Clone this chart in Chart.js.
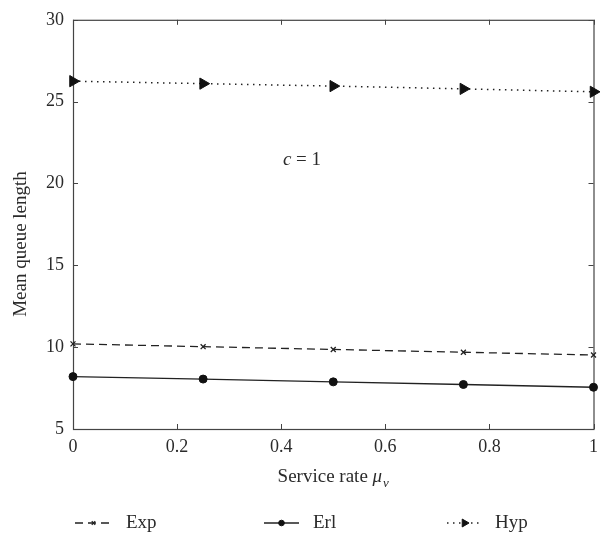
<!DOCTYPE html>
<html><head><meta charset="utf-8">
<script src="https://cdn.jsdelivr.net/npm/chart.js@4.4.0/dist/chart.umd.min.js"></script>
<style>html,body{margin:0;padding:0;background:#fff}#wrap{width:605px;height:540px}</style>
</head><body><div id="wrap"><canvas id="c" width="605" height="540"></canvas></div>
<script>
const serviceRates = [0, 0.25, 0.5, 0.75, 1];
const expValues = [10.2, 10.03, 9.86, 9.69, 9.52];
const erlValues = [8.2, 8.05, 7.88, 7.72, 7.55];
const hypValues = [26.25, 26.1, 25.95, 25.78, 25.6];
const xTicks = [0, 0.2, 0.4, 0.6, 0.8, 1];
const yTicks = [5, 10, 15, 20, 25, 30];
const seriesNames = ['Exp', 'Erl', 'Hyp'];
const yTitle = 'Mean queue length';
const xTitle = 'Service rate ';
const annotation = 'c = 1';

const FONT = "'Liberation Serif', 'Times New Roman', serif";
const INK = '#222';
const TXT = '#2b2b2b';

function pts(vals){ return serviceRates.map((x,i)=>({x:x, y:vals[i]})); }

const legendPos = [
  {x1:75, x2:112, tx:126},
  {x1:264, x2:299, tx:313},
  {x1:447, x2:482, tx:495}
];

const decor = {
  id:'decor',
  beforeDatasetsDraw(chart){
    const {ctx, chartArea:a, scales:{x,y}} = chart;
    ctx.save();
    ctx.strokeStyle = '#444';
    ctx.lineWidth = 1.2;
    ctx.strokeRect(a.left+0.5, a.top+0.5, a.right-a.left, a.bottom-a.top);
    ctx.lineWidth = 1;
    const L = 5;
    ctx.beginPath();
    xTicks.forEach(v=>{
      const px = Math.round(x.getPixelForValue(v))+0.5;
      ctx.moveTo(px, a.bottom); ctx.lineTo(px, a.bottom-L);
      ctx.moveTo(px, a.top); ctx.lineTo(px, a.top+L);
    });
    yTicks.forEach(v=>{
      const py = Math.round(y.getPixelForValue(v))+0.5;
      ctx.moveTo(a.left, py); ctx.lineTo(a.left+L, py);
      ctx.moveTo(a.right, py); ctx.lineTo(a.right-L, py);
    });
    ctx.stroke();
    ctx.restore();
  },
  afterDraw(chart){
    const {ctx, chartArea:a} = chart;
    ctx.save();
    ctx.fillStyle = TXT;
    // y title
    ctx.save();
    ctx.translate(21, 244);
    ctx.rotate(-Math.PI/2);
    ctx.font = '19px ' + FONT;
    ctx.textAlign = 'center'; ctx.textBaseline = 'middle';
    ctx.fillText(yTitle, 0, 0);
    ctx.restore();
    // x title with italic mu and subscript nu
    ctx.textBaseline = 'alphabetic';
    ctx.textAlign = 'left';
    ctx.font = '19px ' + FONT;
    const w1 = ctx.measureText(xTitle).width;
    ctx.font = 'italic 19px ' + FONT;
    const w2 = ctx.measureText('μ').width;
    ctx.font = 'italic 13px ' + FONT;
    const w3 = ctx.measureText('ν').width;
    const cx = (a.left + a.right)/2;
    let sx = cx - (w1+w2+w3+1)/2;
    const base = 482;
    ctx.font = '19px ' + FONT;
    ctx.fillText(xTitle, sx, base);
    ctx.font = 'italic 19px ' + FONT;
    ctx.fillText('μ', sx+w1, base);
    ctx.font = 'italic 13px ' + FONT;
    ctx.fillText('ν', sx+w1+w2+1, base+5);
    // annotation c = 1
    ctx.font = 'italic 19px ' + FONT;
    const cw = ctx.measureText('c').width;
    ctx.font = '19px ' + FONT;
    const rest = annotation.slice(1);
    const rw = ctx.measureText(rest).width;
    let ax = 302 - (cw+rw)/2;
    ctx.font = 'italic 19px ' + FONT;
    ctx.fillText('c', ax, 165);
    ctx.font = '19px ' + FONT;
    ctx.fillText(rest, ax+cw, 165);
    // legend
    const ly = 523;
    chart.data.datasets.forEach((ds,i)=>{
      const p = legendPos[i];
      ctx.save();
      ctx.strokeStyle = ds.borderColor;
      ctx.lineWidth = ds.borderWidth;
      ctx.setLineDash(ds.borderDash || []);
      ctx.beginPath();
      ctx.moveTo(p.x1, ly); ctx.lineTo(p.x2, ly);
      ctx.stroke();
      ctx.setLineDash([]);
      ctx.fillStyle = ds.pointBackgroundColor;
      ctx.strokeStyle = ds.pointBorderColor;
      ctx.lineWidth = ds.pointBorderWidth;
      Chart.helpers.drawPoint(ctx, {pointStyle: ds.pointStyle, radius: ds.pointRadius*0.7, rotation: ds.pointRotation||0, borderWidth: ds.pointBorderWidth}, (p.x1+p.x2)/2, ly);
      ctx.restore();
      ctx.fillStyle = TXT;
      ctx.font = '19px ' + FONT;
      ctx.textBaseline = 'middle';
      ctx.fillText(ds.label, p.tx, ly);
    });
    ctx.restore();
  }
};

new Chart(document.getElementById('c'), {
  type: 'line',
  data: {
    datasets: [
      {label: seriesNames[0], data: pts(expValues), borderColor: INK, borderWidth: 1.3, borderDash: [8,5], clip: false,
       pointStyle: 'crossRot', pointRadius: 3.5, pointBorderWidth: 1.3, pointBorderColor: INK, pointBackgroundColor: INK},
      {label: seriesNames[1], data: pts(erlValues), borderColor: INK, borderWidth: 1.3, clip: false,
       pointStyle: 'circle', pointRadius: 4, pointBorderWidth: 1, pointBorderColor: '#111', pointBackgroundColor: '#111'},
      {label: seriesNames[2], data: pts(hypValues), borderColor: INK, borderWidth: 1.5, borderDash: [1.5,4.5], clip: false,
       pointStyle: 'triangle', pointRotation: 90, pointRadius: 6.5, pointBorderWidth: 1, pointBorderColor: '#111', pointBackgroundColor: '#111'}
    ]
  },
  options: {
    responsive: false,
    animation: false,
    devicePixelRatio: 1,
    layout: {padding: {left: 0, right: 10, top: 16, bottom: 0}},
    plugins: {legend: {display: false}, tooltip: {enabled: false}},
    scales: {
      x: {
        type: 'linear', min: 0, max: 1,
        afterBuildTicks: s => { s.ticks = xTicks.map(v => ({value: v})); },
        afterFit: s => { s.height = 111; },
        grid: {display: false, drawTicks: false},
        border: {display: false},
        ticks: {padding: 7, color: TXT, font: {family: FONT, size: 18}, maxRotation: 0, autoSkip: false,
                callback: v => String(Math.round(v * 10) / 10)}
      },
      y: {
        type: 'linear', min: 5, max: 30,
        afterBuildTicks: s => { s.ticks = yTicks.map(v => ({value: v})); },
        afterFit: s => { s.width = 73; },
        grid: {display: false, drawTicks: false},
        border: {display: false},
        ticks: {padding: 9, color: TXT, font: {family: FONT, size: 18}, autoSkip: false}
      }
    }
  },
  plugins: [decor]
});
</script>
</body></html>
